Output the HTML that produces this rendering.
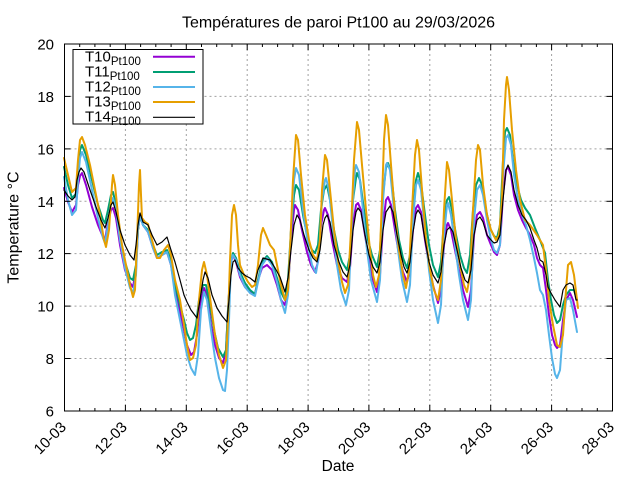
<!DOCTYPE html>
<html><head><meta charset="utf-8"><style>
html,body{margin:0;padding:0;background:#fff;}
svg{display:block;}
text{font-family:"Liberation Sans",Arial,sans-serif;fill:#000;}
</style></head><body>
<svg width="640" height="480" viewBox="0 0 640 480" xmlns="http://www.w3.org/2000/svg">
<rect width="640" height="480" fill="#fff"/>
<!-- grid -->
<g stroke="#a0a0a0" stroke-width="1" stroke-dasharray="2,3" fill="none">
<line x1="64.5" y1="96.4" x2="612.5" y2="96.4"/>
<line x1="64.5" y1="148.9" x2="612.5" y2="148.9"/>
<line x1="64.5" y1="201.3" x2="612.5" y2="201.3"/>
<line x1="64.5" y1="253.6" x2="612.5" y2="253.6"/>
<line x1="64.5" y1="306.1" x2="612.5" y2="306.1"/>
<line x1="64.5" y1="358.5" x2="612.5" y2="358.5"/>
<line x1="125.4" y1="44" x2="125.4" y2="411"/>
<line x1="186.3" y1="44" x2="186.3" y2="411"/>
<line x1="247.2" y1="44" x2="247.2" y2="411"/>
<line x1="308.1" y1="44" x2="308.1" y2="411"/>
<line x1="368.9" y1="44" x2="368.9" y2="411"/>
<line x1="429.8" y1="44" x2="429.8" y2="411"/>
<line x1="490.7" y1="44" x2="490.7" y2="411"/>
<line x1="551.6" y1="44" x2="551.6" y2="411"/>
</g>
<!-- series -->
<g fill="none" stroke-linejoin="round" stroke-linecap="round">
<polyline stroke="#9400d3" stroke-width="2" points="64,188 68,202 72,212 76,205 78,185 80,176 82,173 86,185 92,207 98,225 103,237 105,240 108,222 111,210 113,208 116,218 120,245 125,270 130,283 133,287 136,270 138,230 140,215 143,225 148,232 153,248 157,258 162,255 167,252 171,265 175,290 180,312 184,330 187,345 191,355 194,352 197,335 200,305 204,288 207,295 211,325 215,345 219,358 223,363 226,350 228,310 231,262 233,255 236,262 240,277 245,287 250,292 255,294 258,280 262,268 267,265 272,270 277,285 281,300 285,305 288,290 291,240 294,210 295,205 298,210 302,230 307,252 311,265 315,272 318,262 321,225 324,210 325,208 328,215 332,240 337,265 342,278 347,282 350,268 353,225 356,205 358,203 361,210 365,235 369,260 373,280 377,292 380,275 383,225 386,200 388,197 391,205 395,230 399,255 403,272 407,282 410,270 413,230 416,208 418,205 421,212 425,240 429,265 433,285 438,303 441,290 444,245 447,225 448,223 451,230 455,250 459,270 463,290 468,307 471,290 474,235 477,215 480,212 483,218 487,235 491,245 494,252 497,255 500,245 503,195 506,170 508,167 511,175 514,195 518,210 522,220 526,228 530,235 534,245 537,258 540,265 543,268 546,290 549,315 552,335 555,345 557,348 560,345 563,320 566,300 570,293 573,300 577,317"/>
<polyline stroke="#009e73" stroke-width="2" points="64,167 68,185 72,198 76,194 78,168 80,150 82,145 86,155 92,180 98,205 103,220 105,223 108,210 111,195 113,192 116,205 120,235 125,262 130,278 133,280 136,265 138,230 140,215 143,225 148,230 153,245 157,255 162,252 167,250 171,260 175,285 180,305 184,320 187,333 190,340 193,338 196,325 199,300 203,285 206,285 210,305 214,330 218,348 223,357 226,350 228,310 231,262 233,253 236,258 240,272 245,283 250,290 255,294 258,280 262,262 267,256 272,262 277,278 281,292 285,300 288,280 291,230 294,195 296,185 299,190 303,215 308,240 312,250 315,253 318,245 321,210 324,190 327,185 330,200 334,230 338,250 342,262 347,270 350,255 353,200 356,178 357,173 360,180 364,210 368,240 372,255 377,267 380,250 383,195 386,168 388,163 391,172 395,210 399,240 403,258 407,268 410,255 413,210 416,180 418,173 421,183 425,215 429,245 433,265 438,277 441,262 444,220 447,200 449,197 452,210 456,235 460,255 464,268 467,273 470,255 473,210 476,185 479,178 482,185 486,210 490,228 494,236 497,238 500,225 503,160 505,132 507,128 510,135 513,160 517,185 521,200 525,208 530,215 535,228 540,240 545,253 548,280 551,300 554,315 557,323 560,320 563,305 566,295 570,290 574,290 577,300"/>
<polyline stroke="#56b4e9" stroke-width="2" points="64,177 68,200 72,215 76,210 78,180 80,158 82,152 86,162 92,190 98,218 103,238 105,243 108,225 111,203 113,198 116,210 120,240 125,268 130,288 133,293 136,275 138,230 140,215 143,225 148,232 153,248 157,258 162,255 167,252 171,265 175,295 180,320 184,340 187,355 191,368 195,375 198,355 201,310 204,292 207,300 211,330 215,358 219,378 223,390 225,391 227,370 229,320 231,262 233,255 236,260 240,275 245,287 250,293 255,296 258,282 262,265 267,258 272,265 277,282 281,300 285,313 288,295 291,230 294,180 296,168 299,175 303,210 308,245 312,265 316,273 319,255 322,200 325,180 326,178 329,190 333,230 337,265 341,290 346,305 349,290 352,215 355,170 356,165 359,172 363,210 367,250 371,280 377,302 380,280 383,200 386,165 387,163 390,170 394,210 398,250 402,280 407,302 410,285 413,220 416,185 418,180 421,190 425,230 429,270 433,300 438,323 441,305 444,235 447,205 448,203 451,215 455,245 459,275 463,300 468,320 471,300 474,220 477,190 480,185 483,195 487,220 491,240 494,250 497,253 500,245 503,175 506,138 508,135 511,145 514,175 518,200 522,215 526,225 530,240 534,258 537,273 540,290 543,295 546,310 549,335 552,358 555,374 557,378 560,370 563,330 566,300 570,298 573,310 577,332"/>
<polyline stroke="#e69f00" stroke-width="2" points="64,158 68,175 72,192 76,188 78,160 80,140 82,137 85,145 90,165 95,190 100,215 104,240 106,247 109,230 112,185 113,175 115,185 118,215 122,245 126,265 130,285 133,297 135,290 137,240 139,185 140,170 141,195 142,218 145,222 148,224 152,240 157,258 160,258 164,250 168,245 171,255 175,280 180,300 184,325 187,345 190,360 193,358 196,345 199,300 202,270 204,262 207,275 211,305 215,335 219,355 223,368 226,360 228,320 230,260 232,215 234,205 236,215 238,245 240,265 244,275 248,282 252,287 255,285 258,265 261,235 263,228 266,235 270,245 274,250 278,270 281,285 285,300 288,290 290,250 293,180 296,135 298,140 301,175 305,215 309,240 313,255 317,260 320,240 322,190 325,155 327,160 330,190 334,230 338,260 342,282 345,293 348,285 351,230 354,160 357,122 359,130 362,165 366,210 370,250 373,275 376,287 379,275 382,200 384,140 386,115 388,125 391,165 395,215 399,250 403,275 406,288 409,270 412,210 415,155 417,140 419,150 422,190 426,240 430,270 434,290 438,300 441,280 444,210 447,162 449,170 452,200 456,240 460,265 464,285 467,292 470,275 473,210 476,160 478,145 480,150 483,185 487,215 491,230 496,240 499,235 502,200 504,120 506,85 507,77 509,90 512,130 516,170 520,200 525,220 530,225 537,235 543,245 546,270 549,300 553,325 557,345 560,347 563,335 566,290 568,265 571,262 574,275 577,300 578,308"/>
<polyline stroke="#000" stroke-width="1.2" points="64,190 68,196 72,200 75,197 77,180 79,172 81,168 84,172 90,190 96,207 101,220 105,228 108,218 111,205 113,202 116,212 120,230 125,245 130,255 134,260 136,245 138,225 140,213 143,222 148,225 152,235 157,245 162,242 167,237 171,250 175,262 180,280 184,295 187,302 191,310 197,318 200,300 203,280 205,272 208,278 212,295 217,308 222,316 227,322 229,300 231,275 233,262 235,260 238,268 242,273 246,276 250,278 255,282 258,270 263,258 270,260 275,268 280,277 285,292 288,278 291,250 294,225 297,215 300,220 304,235 309,250 313,258 317,262 320,250 323,225 325,218 327,215 330,222 334,245 339,262 343,272 347,277 350,265 353,230 356,212 358,208 361,212 365,235 369,255 373,267 377,273 380,262 383,230 386,212 390,206 393,212 397,235 401,255 404,267 407,273 410,262 413,232 416,214 418,210 421,215 425,240 429,262 433,275 438,283 441,272 444,245 447,230 450,227 453,232 457,250 461,268 465,280 468,283 471,270 474,235 477,220 480,217 483,222 487,235 491,240 494,243 497,242 500,235 503,200 506,170 508,165 511,172 514,190 518,205 522,215 526,220 530,228 534,240 537,248 540,260 543,262 546,275 548,287 551,293 555,300 560,307 563,290 566,285 570,283 573,285 576,300 577,300"/>
</g>
<!-- border -->
<rect x="64.5" y="44" width="548" height="367" fill="none" stroke="#000" stroke-width="1"/>
<!-- y ticks -->
<g stroke="#000" stroke-width="1">
<line x1="64.5" y1="44" x2="70.5" y2="44"/><line x1="612.5" y1="44" x2="606.5" y2="44"/>
<line x1="64.5" y1="96.4" x2="70.5" y2="96.4"/><line x1="612.5" y1="96.4" x2="606.5" y2="96.4"/>
<line x1="64.5" y1="148.9" x2="70.5" y2="148.9"/><line x1="612.5" y1="148.9" x2="606.5" y2="148.9"/>
<line x1="64.5" y1="201.3" x2="70.5" y2="201.3"/><line x1="612.5" y1="201.3" x2="606.5" y2="201.3"/>
<line x1="64.5" y1="253.6" x2="70.5" y2="253.6"/><line x1="612.5" y1="253.6" x2="606.5" y2="253.6"/>
<line x1="64.5" y1="306.1" x2="70.5" y2="306.1"/><line x1="612.5" y1="306.1" x2="606.5" y2="306.1"/>
<line x1="64.5" y1="358.5" x2="70.5" y2="358.5"/><line x1="612.5" y1="358.5" x2="606.5" y2="358.5"/>
</g>
<!-- x ticks -->
<g stroke="#000" stroke-width="1" id="xt">
<path d="M64.5 411v-6M125.4 411v-6M186.3 411v-6M247.2 411v-6M308.1 411v-6M368.9 411v-6M429.8 411v-6M490.7 411v-6M551.6 411v-6M612.5 411v-6
M64.5 44v6M125.4 44v6M186.3 44v6M247.2 44v6M308.1 44v6M368.9 44v6M429.8 44v6M490.7 44v6M551.6 44v6M612.5 44v6"/>
<path d="M79.7 411v-3M94.9 411v-3M110.2 411v-3M140.6 411v-3M155.8 411v-3M171.1 411v-3M201.5 411v-3M216.7 411v-3M232 411v-3M262.4 411v-3M277.6 411v-3M292.9 411v-3M323.3 411v-3M338.5 411v-3M353.7 411v-3M384.1 411v-3M399.4 411v-3M414.6 411v-3M445 411v-3M460.2 411v-3M475.5 411v-3M505.9 411v-3M521.1 411v-3M536.4 411v-3M566.8 411v-3M582 411v-3M597.3 411v-3
M79.7 44v3M94.9 44v3M110.2 44v3M140.6 44v3M155.8 44v3M171.1 44v3M201.5 44v3M216.7 44v3M232 44v3M262.4 44v3M277.6 44v3M292.9 44v3M323.3 44v3M338.5 44v3M353.7 44v3M384.1 44v3M399.4 44v3M414.6 44v3M445 44v3M460.2 44v3M475.5 44v3M505.9 44v3M521.1 44v3M536.4 44v3M566.8 44v3M582 44v3M597.3 44v3"/>
</g>
<!-- y labels -->
<g font-size="15" text-anchor="end">
<text x="54" y="49.5">20</text>
<text x="54" y="101.9">18</text>
<text x="54" y="154.4">16</text>
<text x="54" y="206.8">14</text>
<text x="54" y="259.1">12</text>
<text x="54" y="311.6">10</text>
<text x="54" y="364">8</text>
<text x="54" y="416.5">6</text>
</g>
<!-- x labels -->
<g font-size="15" text-anchor="end">
<text transform="translate(67,428) rotate(-45)">10-03</text>
<text transform="translate(127.9,428) rotate(-45)">12-03</text>
<text transform="translate(188.8,428) rotate(-45)">14-03</text>
<text transform="translate(249.7,428) rotate(-45)">16-03</text>
<text transform="translate(310.6,428) rotate(-45)">18-03</text>
<text transform="translate(371.4,428) rotate(-45)">20-03</text>
<text transform="translate(432.3,428) rotate(-45)">22-03</text>
<text transform="translate(493.2,428) rotate(-45)">24-03</text>
<text transform="translate(554.1,428) rotate(-45)">26-03</text>
<text transform="translate(615,428) rotate(-45)">28-03</text>
</g>
<!-- titles -->
<text x="338.5" y="27.5" font-size="16" text-anchor="middle">Températures de paroi Pt100 au 29/03/2026</text>
<text transform="translate(18.5,227.5) rotate(-90)" font-size="16" text-anchor="middle">Temperature °C</text>
<text x="338" y="471" font-size="15.5" text-anchor="middle">Date</text>
<!-- legend -->
<rect x="73" y="49.5" width="130" height="74.5" fill="#fff" stroke="#000" stroke-width="1"/>
<g font-size="15">
<text x="85" y="61.7">T10<tspan font-size="11.5" dy="3.3">Pt100</tspan></text>
<text x="85" y="76.7">T11<tspan font-size="11.5" dy="3.3">Pt100</tspan></text>
<text x="85" y="91.7">T12<tspan font-size="11.5" dy="3.3">Pt100</tspan></text>
<text x="85" y="106.7">T13<tspan font-size="11.5" dy="3.3">Pt100</tspan></text>
<text x="85" y="121.7">T14<tspan font-size="11.5" dy="3.3">Pt100</tspan></text>
</g>
<g stroke-width="2">
<line x1="153" y1="56.7" x2="195" y2="56.7" stroke="#9400d3"/>
<line x1="153" y1="72" x2="195" y2="72" stroke="#009e73"/>
<line x1="153" y1="87" x2="195" y2="87" stroke="#56b4e9"/>
<line x1="153" y1="102" x2="195" y2="102" stroke="#e69f00"/>
<line x1="153" y1="117.3" x2="195" y2="117.3" stroke="#000" stroke-width="1.2"/>
</g>
</svg>
</body></html>
